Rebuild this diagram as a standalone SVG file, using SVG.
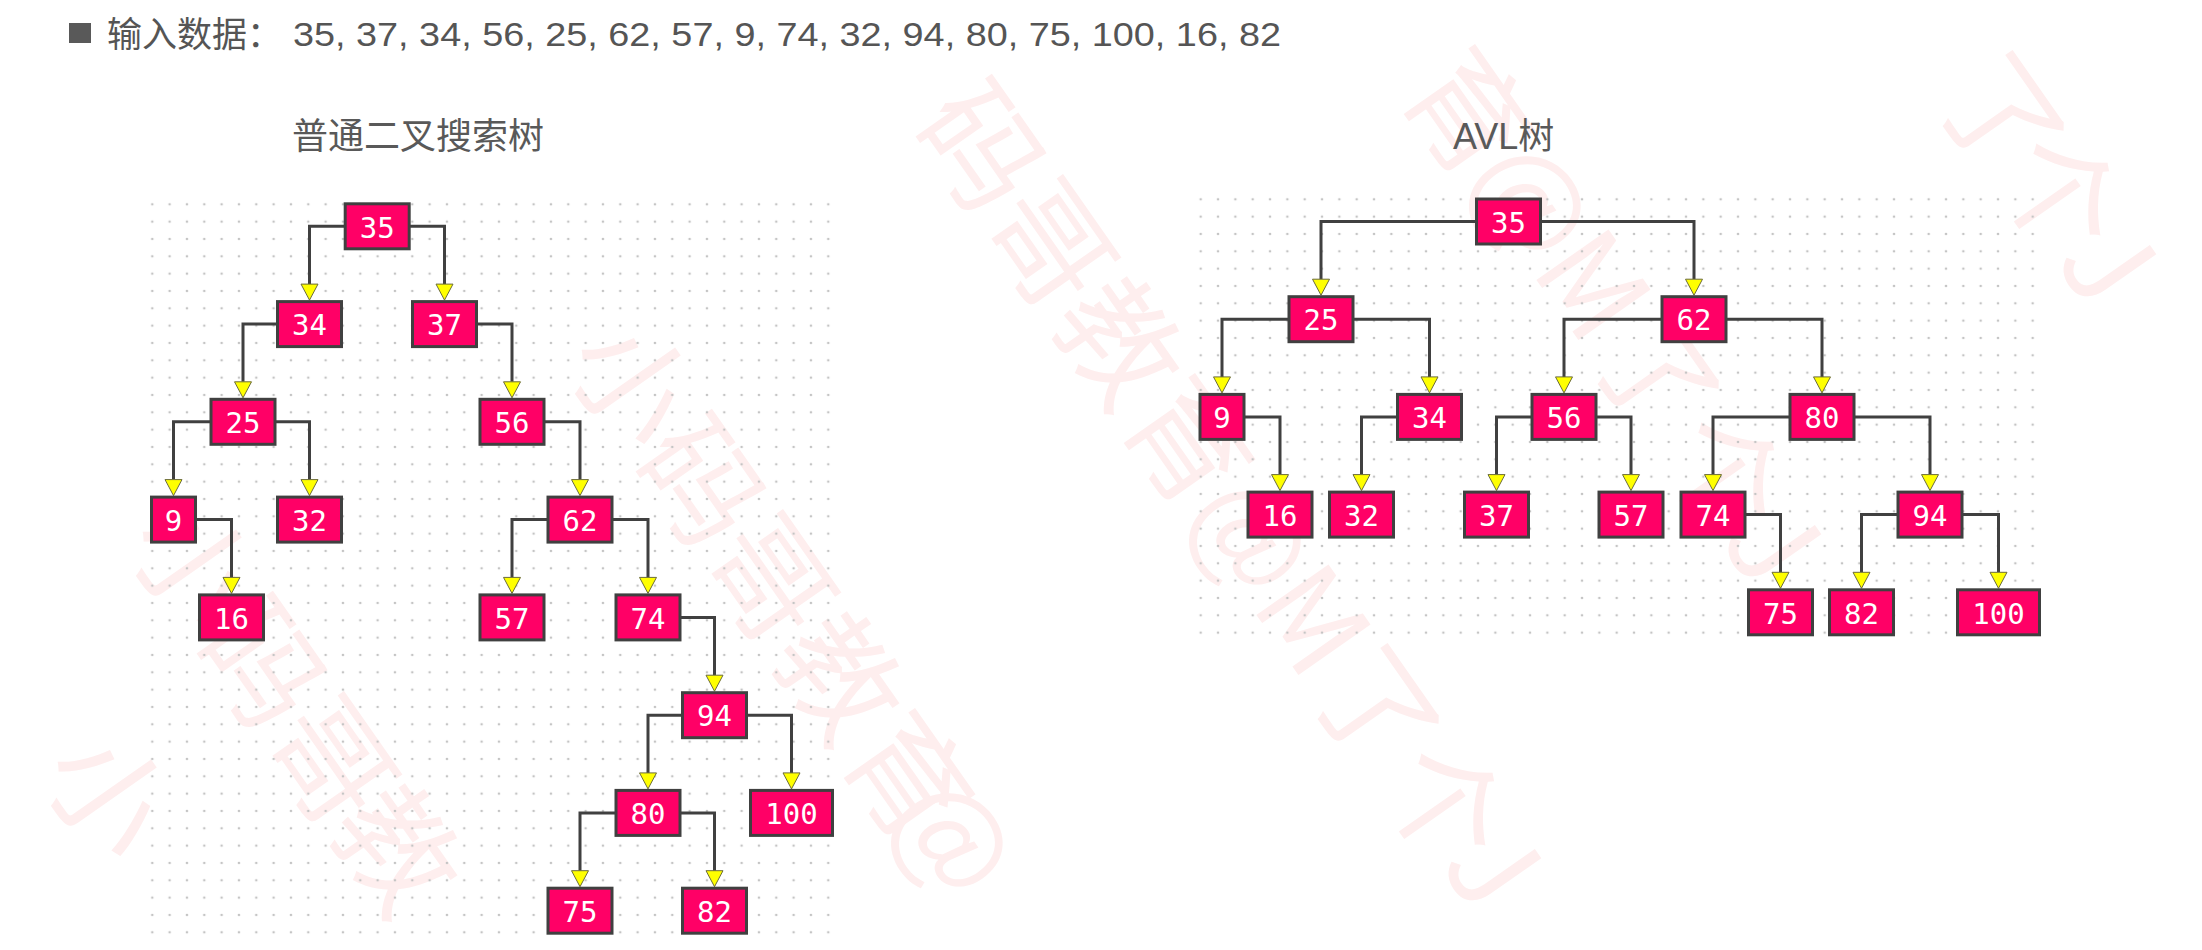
<svg xmlns="http://www.w3.org/2000/svg" width="2202" height="950" viewBox="0 0 2202 950">
<style>
.node rect{fill:#ff0066;stroke:#404040;stroke-width:3}
.node text{fill:#ffffff;font-family:"DejaVu Sans Mono",monospace;font-size:29px;text-anchor:middle}
.edge{fill:none;stroke:#404040;stroke-width:3;marker-end:url(#arr)}
.hd{fill:#595959;font-family:"Liberation Sans","Noto Sans CJK SC",sans-serif;font-size:36px}
.wm{fill:#feeeee;font-family:"Noto Sans CJK SC",sans-serif;font-size:120px;text-anchor:middle;dominant-baseline:central}
</style>
<defs>
<marker id="arr" markerUnits="userSpaceOnUse" markerWidth="18" markerHeight="20" viewBox="-1 -10 18 20" refX="0" refY="0" orient="auto" overflow="visible">
<path d="M0,-8.5 L16,0 L0,8.5 Z" fill="#ffff00" stroke="#6b6b3a" stroke-width="1"/>
</marker>
<pattern id="dotsL" x="143.63" y="195.63" width="17.333" height="17.333" patternUnits="userSpaceOnUse">
<circle cx="8.667" cy="8.667" r="1.3" fill="#c4c4c4"/>
</pattern>
<pattern id="dotsA" x="1192.03" y="190.63" width="17.333" height="17.333" patternUnits="userSpaceOnUse">
<circle cx="8.667" cy="8.667" r="1.3" fill="#c4c4c4"/>
</pattern>
</defs>
<rect width="2202" height="950" fill="#ffffff"/>
<g id="watermark">
<text class="wm" transform="translate(2008,112) rotate(55)">了</text>
<text class="wm" transform="translate(2067,190) rotate(55)">个</text>
<text class="wm" transform="translate(2115,258) rotate(55)">J</text>
<text class="wm" transform="translate(1475,108) rotate(55)">育</text>
<text class="wm" transform="translate(1540,195) rotate(55)">@</text>
<text class="wm" transform="translate(1600,280) rotate(55)">M</text>
<text class="wm" transform="translate(1663,370) rotate(55)">了</text>
<text class="wm" transform="translate(1732,469) rotate(55)">个</text>
<text class="wm" transform="translate(1780,538) rotate(55)">J</text>
<text class="wm" transform="translate(988,142) rotate(55)">码</text>
<text class="wm" transform="translate(1057,240) rotate(55)">哥</text>
<text class="wm" transform="translate(1126,338) rotate(55)">教</text>
<text class="wm" transform="translate(1195,437) rotate(55)">育</text>
<text class="wm" transform="translate(1260,530) rotate(55)">@</text>
<text class="wm" transform="translate(1320,615) rotate(55)">M</text>
<text class="wm" transform="translate(1383,705) rotate(55)">了</text>
<text class="wm" transform="translate(1452,800) rotate(55)">个</text>
<text class="wm" transform="translate(1500,862) rotate(55)">J</text>
<text class="wm" transform="translate(639,378) rotate(55)">小</text>
<text class="wm" transform="translate(708,477) rotate(55)">码</text>
<text class="wm" transform="translate(777,575) rotate(55)">哥</text>
<text class="wm" transform="translate(846,673) rotate(55)">教</text>
<text class="wm" transform="translate(915,772) rotate(55)">育</text>
<text class="wm" transform="translate(962,832) rotate(55)">@</text>
<text class="wm" transform="translate(200,560) rotate(55)">小</text>
<text class="wm" transform="translate(269,659) rotate(55)">码</text>
<text class="wm" transform="translate(338,757) rotate(55)">哥</text>
<text class="wm" transform="translate(404,845) rotate(55)">教</text>
<text class="wm" transform="translate(115,790) rotate(55)">小</text>
</g>
<g id="grids">
<rect x="143.63" y="195.63" width="693.3" height="745.3" fill="url(#dotsL)"/>
<rect x="1192.03" y="190.63" width="849.3" height="450.7" fill="url(#dotsA)"/>
</g>
<g id="header">
<rect x="69" y="23" width="22" height="20" fill="#595959"/>
<text x="107" y="47" fill="#555555" font-family="'Noto Sans CJK SC',sans-serif" font-size="35">输入数据：</text>
<text x="293" y="46" fill="#555555" font-family="'Liberation Sans',sans-serif" font-size="33" textLength="988" lengthAdjust="spacingAndGlyphs">35, 37, 34, 56, 25, 62, 57, 9, 74, 32, 94, 80, 75, 100, 16, 82</text>
<text class="hd" x="292" y="149" font-family="'Noto Sans CJK SC',sans-serif">普通二叉搜索树</text>
<text class="hd" x="1453" y="149">AVL树</text>
</g>
<g id="connectors">
<path class="edge" d="M344,226.3 H309.5 V284.1"/>
<path class="edge" d="M410,226.3 H444.5 V284.1"/>
<path class="edge" d="M277,324.1 H243 V381.8"/>
<path class="edge" d="M477,324.1 H512 V381.8"/>
<path class="edge" d="M211,421.8 H173.5 V479.6"/>
<path class="edge" d="M275,421.8 H309.5 V479.6"/>
<path class="edge" d="M544,421.8 H580 V479.6"/>
<path class="edge" d="M197,519.6 H231.5 V577.4"/>
<path class="edge" d="M548,519.6 H512 V577.4"/>
<path class="edge" d="M612,519.6 H648 V577.4"/>
<path class="edge" d="M680,617.4 H714.5 V675.2"/>
<path class="edge" d="M682,715.2 H648 V772.9"/>
<path class="edge" d="M747,715.2 H791.5 V772.9"/>
<path class="edge" d="M616,812.9 H580 V870.7"/>
<path class="edge" d="M680,812.9 H714.5 V870.7"/>
<path class="edge" d="M1476,221.5 H1321 V279.2"/>
<path class="edge" d="M1541,221.5 H1694 V279.2"/>
<path class="edge" d="M1289,319.2 H1222 V376.9"/>
<path class="edge" d="M1353,319.2 H1429.5 V376.9"/>
<path class="edge" d="M1662,319.2 H1564 V376.9"/>
<path class="edge" d="M1726,319.2 H1822 V376.9"/>
<path class="edge" d="M1245,416.9 H1280 V474.6"/>
<path class="edge" d="M1397,416.9 H1361.5 V474.6"/>
<path class="edge" d="M1532,416.9 H1496.5 V474.6"/>
<path class="edge" d="M1596,416.9 H1631 V474.6"/>
<path class="edge" d="M1790,416.9 H1713 V474.6"/>
<path class="edge" d="M1854,416.9 H1930 V474.6"/>
<path class="edge" d="M1745,514.6 H1780.5 V572.3"/>
<path class="edge" d="M1898,514.6 H1861.5 V572.3"/>
<path class="edge" d="M1962,514.6 H1998.5 V572.3"/>
</g>
<g id="bst">
<g id="L35" class="node"><rect x="345.2" y="203.8" width="64" height="45"/><text x="377.2" y="237.5">35</text></g>
<g id="L34" class="node"><rect x="277.5" y="301.6" width="64" height="45"/><text x="309.5" y="335.3">34</text></g>
<g id="L37" class="node"><rect x="412.5" y="301.6" width="64" height="45"/><text x="444.5" y="335.3">37</text></g>
<g id="L25" class="node"><rect x="211" y="399.3" width="64" height="45"/><text x="243" y="433">25</text></g>
<g id="L56" class="node"><rect x="480" y="399.3" width="64" height="45"/><text x="512" y="433">56</text></g>
<g id="L9" class="node"><rect x="151.5" y="497.1" width="44" height="45"/><text x="173.5" y="530.8">9</text></g>
<g id="L32" class="node"><rect x="277.5" y="497.1" width="64" height="45"/><text x="309.5" y="530.8">32</text></g>
<g id="L62" class="node"><rect x="548" y="497.1" width="64" height="45"/><text x="580" y="530.8">62</text></g>
<g id="L16" class="node"><rect x="199.5" y="594.9" width="64" height="45"/><text x="231.5" y="628.6">16</text></g>
<g id="L57" class="node"><rect x="480" y="594.9" width="64" height="45"/><text x="512" y="628.6">57</text></g>
<g id="L74" class="node"><rect x="616" y="594.9" width="64" height="45"/><text x="648" y="628.6">74</text></g>
<g id="L94" class="node"><rect x="682.5" y="692.7" width="64" height="45"/><text x="714.5" y="726.4">94</text></g>
<g id="L80" class="node"><rect x="616" y="790.4" width="64" height="45"/><text x="648" y="824.1">80</text></g>
<g id="L100" class="node"><rect x="750.5" y="790.4" width="82" height="45"/><text x="791.5" y="824.1">100</text></g>
<g id="L75" class="node"><rect x="548" y="888.2" width="64" height="45"/><text x="580" y="921.9">75</text></g>
<g id="L82" class="node"><rect x="682.5" y="888.2" width="64" height="45"/><text x="714.5" y="921.9">82</text></g>
</g>
<g id="avl">
<g id="A35" class="node"><rect x="1476.5" y="199" width="64" height="45"/><text x="1508.5" y="232.7">35</text></g>
<g id="A25" class="node"><rect x="1289" y="296.7" width="64" height="45"/><text x="1321" y="330.4">25</text></g>
<g id="A62" class="node"><rect x="1662" y="296.7" width="64" height="45"/><text x="1694" y="330.4">62</text></g>
<g id="A9" class="node"><rect x="1200" y="394.4" width="44" height="45"/><text x="1222" y="428.1">9</text></g>
<g id="A34" class="node"><rect x="1397.5" y="394.4" width="64" height="45"/><text x="1429.5" y="428.1">34</text></g>
<g id="A56" class="node"><rect x="1532" y="394.4" width="64" height="45"/><text x="1564" y="428.1">56</text></g>
<g id="A80" class="node"><rect x="1790" y="394.4" width="64" height="45"/><text x="1822" y="428.1">80</text></g>
<g id="A16" class="node"><rect x="1248" y="492.1" width="64" height="45"/><text x="1280" y="525.8">16</text></g>
<g id="A32" class="node"><rect x="1329.5" y="492.1" width="64" height="45"/><text x="1361.5" y="525.8">32</text></g>
<g id="A37" class="node"><rect x="1464.5" y="492.1" width="64" height="45"/><text x="1496.5" y="525.8">37</text></g>
<g id="A57" class="node"><rect x="1599" y="492.1" width="64" height="45"/><text x="1631" y="525.8">57</text></g>
<g id="A74" class="node"><rect x="1681" y="492.1" width="64" height="45"/><text x="1713" y="525.8">74</text></g>
<g id="A94" class="node"><rect x="1898" y="492.1" width="64" height="45"/><text x="1930" y="525.8">94</text></g>
<g id="A75" class="node"><rect x="1748.5" y="589.8" width="64" height="45"/><text x="1780.5" y="623.5">75</text></g>
<g id="A82" class="node"><rect x="1829.5" y="589.8" width="64" height="45"/><text x="1861.5" y="623.5">82</text></g>
<g id="A100" class="node"><rect x="1957.5" y="589.8" width="82" height="45"/><text x="1998.5" y="623.5">100</text></g>
</g>
</svg>
